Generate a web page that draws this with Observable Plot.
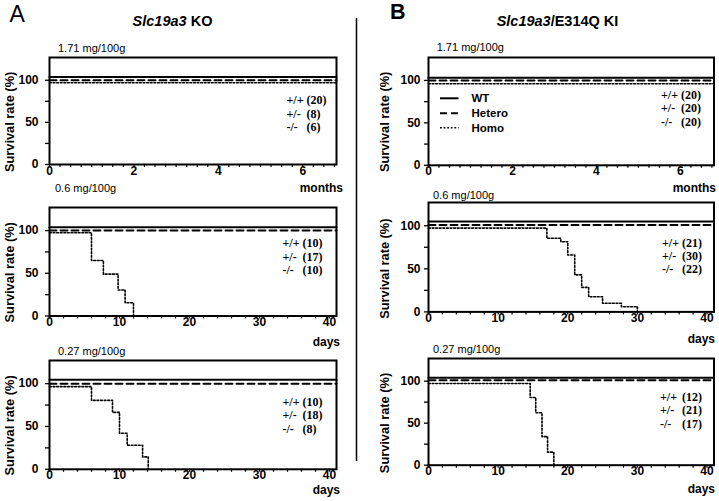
<!DOCTYPE html>
<html><head><meta charset="utf-8">
<script src="https://cdn.jsdelivr.net/npm/d3@7"></script>
<script src="https://cdn.jsdelivr.net/npm/@observablehq/plot@0.6"></script>
<style>
html,body{margin:0;padding:0;background:#fff;}
#fig{position:relative;width:719px;height:501px;overflow:hidden;background:#fff;}
</style></head><body><div id="fig"></div>
<script>
// ---------- data ----------
const panelLetters = ["A", "B"];
const columnTitleItalic = ["Slc19a3", "Slc19a3"];
const columnTitleRest = [" KO", "/E314Q KI"];
const doseLabels = ["1.71 mg/100g", "0.6 mg/100g", "0.27 mg/100g"];
const xUnits = ["months", "days", "days"];
const monthTicks = [0, 2, 4, 6];
const dayTicks = [0, 10, 20, 30, 40];
const genotypes = ["+/+", "+/-", "-/-"];
const legendNames = ["WT", "Hetero", "Homo"];
const yLabel = "Survival rate (%)";
const koCounts = [[20, 8, 6], [10, 17, 10], [10, 18, 8]];
const kiCounts = [[20, 20, 20], [21, 30, 22], [12, 21, 17]];
// survival levels as drawn (curves are offset slightly for visibility)
const koWT = [104, 104, 104.5];
const koHet = [100, 100, 100];
const kiWT = [103, 105, 104];
const kiHet = [100, 101, 101];
const koHomoTop = 97;
const kiHomoTop = 96;
const koHomoMidDay = [0, 6, 7.7, 9.8, 10.8, 12];
const koHomoMidSurv = [97.5, 65, 49, 30.5, 15.5, 0];
const koHomoLowDay = [0, 6, 9, 10, 11.1, 13.3, 14.1];
const koHomoLowSurv = [96.5, 80.5, 66.5, 42, 28, 14.5, 0];
const kiHomoMidDay = [0, 17, 19, 20, 21, 22, 23, 25, 27.7, 30];
const kiHomoMidSurv = [97.3, 85.5, 81.5, 66, 43, 28.5, 17.5, 10, 6, 0];
const kiHomoLowDay = [0, 14.6, 15.4, 16.3, 17.1, 18];
const kiHomoLowSurv = [97.3, 80.5, 62.5, 34, 15.5, 0];

// ---------- layout ----------
const layout = [
  {x0: 49, x1: 336, rows: [[57, 164], [206.5, 315], [359.5, 468.3]], tickPad: 7,
   ann: [[-50, -30, 42], [-54, -34, 35], [-54, -34, 40.7]], yLabelX: 9.5,
   doseX: [58, 55, 58], doseY: [47.5, 188, 350.7], unitRight: [343, 340, 340], unitY: [188, 342, 489.5],
   titleX: 172.5},
  {x0: 428, x1: 713.5, rows: [[56.5, 164.3], [202.3, 311.7], [358.3, 465]], tickPad: 4,
   ann: [[-53, -33, 36.6], [-52, -32, 39.4], [-54, -32, 37.7]], yLabelX: 384,
   doseX: [436.7, 433, 433], doseY: [46.7, 195, 349], unitRight: [716, 715, 715], unitY: [188, 339, 489],
   titleX: 557.5}
];
const mL = 48, mR = 8, mT = 2, mB = 22;
const SANS = "Liberation Sans, Arial, sans-serif";
const SERIF = "Liberation Serif, Times New Roman, serif";
const yDomain = [0, 127];
const DOT = "1.8,1.8";
const DASH = "7,4";

const fig = document.getElementById("fig");
const yLabelPos = [];

function pts(xs, ys) { return xs.map((x, i) => ({x, y: ys[i]})); }

for (let c = 0; c < 2; c++) {
  const L = layout[c];
  for (let r = 0; r < 3; r++) {
    const [y0, y1] = L.rows[r];
    const w = L.x1 - L.x0, h = y1 - y0;
    const xDomain = r === 0 ? [0, 6.8] : [0, 41];
    const major = r === 0 ? monthTicks : dayTicks;
    const minor = d3.range(0, xDomain[1] + 1e-9, r === 0 ? 0.25 : 2);
    const counts = (c === 0 ? koCounts : kiCounts)[r];
    const wt = (c === 0 ? koWT : kiWT)[r];
    const het = (c === 0 ? koHet : kiHet)[r];
    let homo;
    if (r === 0) {
      const lv = c === 0 ? koHomoTop : kiHomoTop;
      homo = pts(xDomain, [lv, lv]);
    } else if (c === 0) {
      homo = r === 1 ? pts(koHomoMidDay, koHomoMidSurv) : pts(koHomoLowDay, koHomoLowSurv);
    } else {
      homo = r === 1 ? pts(kiHomoMidDay, kiHomoMidSurv) : pts(kiHomoLowDay, kiHomoLowSurv);
    }
    const [gdx, cdx, rowOff] = L.ann[r];
    const svg = Plot.plot({
      width: mL + w + mR, height: mT + h + mB,
      marginLeft: mL, marginRight: mR, marginTop: mT, marginBottom: mB,
      style: {background: "transparent", overflow: "visible", fontFamily: SANS},
      x: {domain: xDomain},
      y: {domain: yDomain},
      marks: [
        Plot.axisY({ticks: [0, 25, 50, 75, 100], tickSize: 4, tickPadding: L.tickPad,
          tickFormat: d => (d % 50 === 0 ? String(d) : ""), fontSize: 12, fontWeight: "bold",
          label: null, strokeWidth: 1.3}),
        Plot.axisX({ticks: minor, tickSize: 3, tickFormat: () => "", label: null, strokeWidth: 1.2}),
        Plot.axisX({ticks: major, tickSize: 0, tickPadding: 1.5, tickFormat: d => String(d),
          fontSize: 12, fontWeight: "bold", label: null}),
        Plot.line(pts(xDomain, [wt, wt]), {x: "x", y: "y", stroke: "black", strokeWidth: 2}),
        Plot.line(pts(xDomain, [het, het]), {x: "x", y: "y", stroke: "black", strokeWidth: 2, strokeDasharray: DASH}),
        Plot.line(homo, {x: "x", y: "y", stroke: "black", strokeWidth: 1.6, strokeDasharray: DOT, curve: "step-after"}),
        Plot.frame({stroke: "black", strokeWidth: 2}),
        Plot.text([genotypes.join("\n")], {text: d => d, frameAnchor: "top-right", textAnchor: "start",
          lineAnchor: "top", dx: gdx, dy: rowOff - 4.5, lineHeight: 1.11, fontSize: 12,
          fontFamily: SERIF, fontWeight: "bold", fill: "black"}),
        Plot.text([counts.map(v => `(${v})`).join("\n")], {text: d => d, frameAnchor: "top-right", textAnchor: "start",
          lineAnchor: "top", dx: cdx, dy: rowOff - 4.5, lineHeight: 1.11, fontSize: 12,
          fontFamily: SERIF, fontWeight: "bold", fill: "black"})
      ]
    });
    svg.style.position = "absolute";
    svg.style.left = (L.x0 - mL) + "px";
    svg.style.top = (y0 - mT) + "px";
    svg.style.maxWidth = "none";
    fig.appendChild(svg);
    yLabelPos.push({x: L.yLabelX, y: y0 - mT + svg.scale("y").apply(50)});
  }
}

// ---------- overlay text ----------
const ov = d3.select(fig).append("svg")
  .attr("width", 719).attr("height", 501)
  .style("position", "absolute").style("left", 0).style("top", 0)
  .style("pointer-events", "none")
  .attr("font-family", SANS);

// panel letters
ov.append("text").attr("x", 9.5).attr("y", 21.7).attr("font-size", 23).text(panelLetters[0]);
ov.append("text").attr("x", 390).attr("y", 18.5).attr("font-size", 21.5).attr("font-weight", "bold").text(panelLetters[1]);

// divider
ov.append("line").attr("x1", 356.5).attr("x2", 356.5).attr("y1", 18).attr("y2", 461)
  .attr("stroke", "black").attr("stroke-width", 1.5);

for (let c = 0; c < 2; c++) {
  const L = layout[c];
  const t = ov.append("text").attr("x", L.titleX).attr("y", 21).attr("text-anchor", "middle")
    .attr("dominant-baseline", "central").attr("font-size", 14.5).attr("font-weight", "bold");
  t.append("tspan").attr("font-style", "italic").text(columnTitleItalic[c]);
  t.append("tspan").text(columnTitleRest[c]);
  for (let r = 0; r < 3; r++) {
    ov.append("text").attr("x", L.doseX[r]).attr("y", L.doseY[r]).attr("dominant-baseline", "central")
      .attr("font-size", 11).text(doseLabels[r]);
    ov.append("text").attr("x", L.unitRight[r]).attr("y", L.unitY[r]).attr("dominant-baseline", "central")
      .attr("text-anchor", "end").attr("font-size", 12).attr("font-weight", "bold").text(xUnits[r]);
    const p = yLabelPos[c * 3 + r];
    ov.append("text").attr("transform", `translate(${p.x},${p.y}) rotate(-90)`)
      .attr("text-anchor", "middle").attr("dominant-baseline", "central")
      .attr("font-size", 12.8).attr("font-weight", "bold").text(yLabel);
  }
}

// legend (panel B top)
const legDash = [null, DASH, DOT];
const legY = [98.3, 113.3, 127.7];
legendNames.forEach((name, i) => {
  const ln = ov.append("line").attr("x1", 440).attr("x2", 458.5).attr("y1", legY[i]).attr("y2", legY[i])
    .attr("stroke", "black").attr("stroke-width", i === 2 ? 1.5 : 2);
  if (legDash[i]) ln.attr("stroke-dasharray", legDash[i]);
  ov.append("text").attr("x", 471.5).attr("y", legY[i]).attr("dominant-baseline", "central")
    .attr("font-size", 11.5).attr("font-weight", "bold").text(name);
});
</script></body></html>
